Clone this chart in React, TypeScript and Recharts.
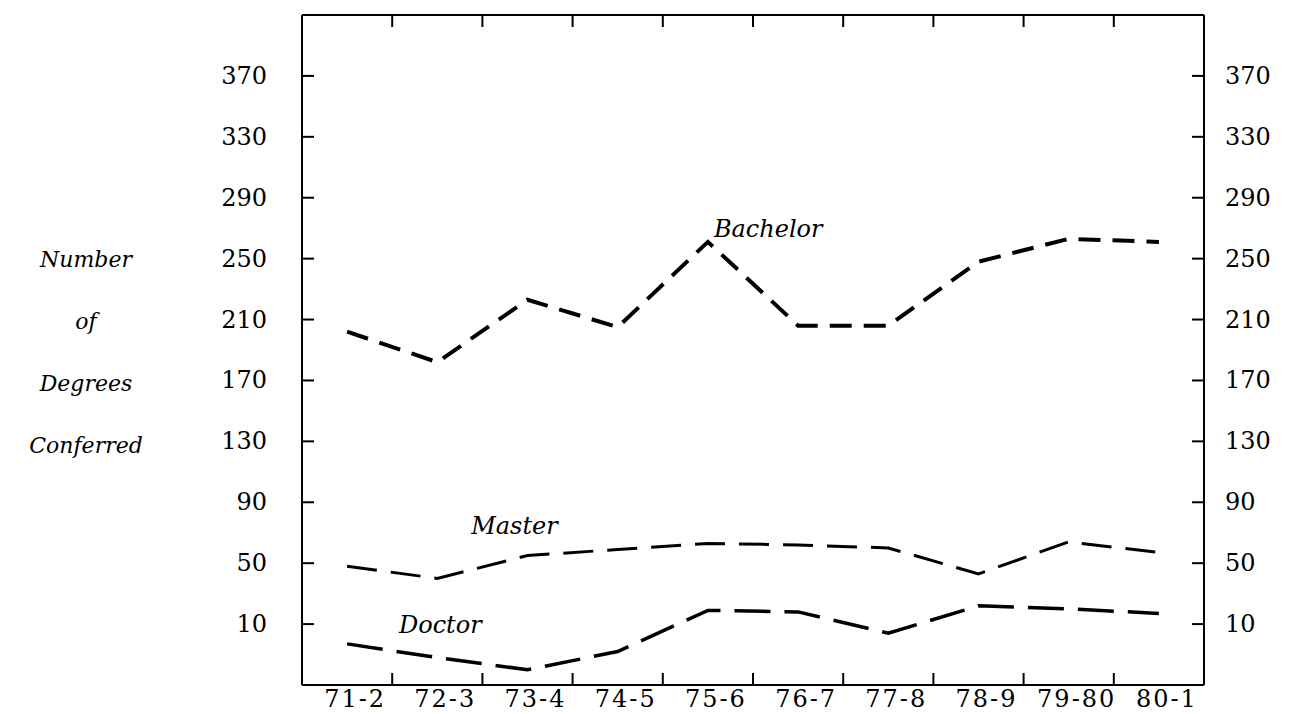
import React from 'react';
import { LineChart, Line, XAxis, YAxis, LabelList } from 'recharts';

const years = ['71-2', '72-3', '73-4', '74-5', '75-6', '76-7', '77-8', '78-9', '79-80', '80-1'];
const bachelor = [202, 182, 223, 205, 261, 206, 206, 248, 263, 261];
const master = [48, 40, 55, 59, 63, 62, 60, 43, 64, 57];
const doctor = [-3, -12, -20, -8, 19, 18, 4, 22, 20, 17];
const yTicks = [10, 50, 90, 130, 170, 210, 250, 290, 330, 370];
const titleLines = ['Number', 'of', 'Degrees', 'Conferred'];

const data = years.map((year, i) => ({
  year,
  bachelor: bachelor[i],
  master: master[i],
  doctor: doctor[i],
}));

const W = 1300;
const H = 714;
const PLOT_L = 302;
const PLOT_R = 1204;
const PLOT_T = 15;
const PLOT_B = 685;
const HALF = (PLOT_R - PLOT_L) / years.length / 2;
const FONT = '"DejaVu Serif", serif';
const TICK = 12;

const BottomTick = (props: any) => {
  const { x, index, payload } = props;
  return (
    <g>
      <text x={x + 8} y={707} textAnchor="middle" fontFamily={FONT} fontSize={24} letterSpacing={2} fill="#000">
        {payload.value}
      </text>
      {index < years.length - 1 && (
        <line x1={x + HALF} x2={x + HALF} y1={PLOT_B} y2={PLOT_B - TICK} stroke="#000" strokeWidth={2} />
      )}
    </g>
  );
};

const TopTick = (props: any) => {
  const { x, index } = props;
  if (index >= years.length - 1) return <g />;
  return <line x1={x + HALF} x2={x + HALF} y1={PLOT_T} y2={PLOT_T + TICK} stroke="#000" strokeWidth={2} />;
};

const LeftTick = (props: any) => {
  const { y, payload } = props;
  return (
    <g>
      <text x={267} y={y + 8} textAnchor="end" fontFamily={FONT} fontSize={24} fill="#000">
        {payload.value}
      </text>
      <line x1={PLOT_L} x2={PLOT_L + TICK} y1={y} y2={y} stroke="#000" strokeWidth={2} />
    </g>
  );
};

const RightTick = (props: any) => {
  const { y, payload } = props;
  return (
    <g>
      <text x={1225} y={y + 8} textAnchor="start" fontFamily={FONT} fontSize={24} fill="#000">
        {payload.value}
      </text>
      <line x1={PLOT_R} x2={PLOT_R - TICK} y1={y} y2={y} stroke="#000" strokeWidth={2} />
    </g>
  );
};

const makeLabel = (name: string, at: number, dx: number, dy: number, anchor: string) => (props: any) => {
  const { x, y, index } = props;
  if (index !== at) return null;
  return (
    <text x={x + dx} y={y + dy} textAnchor={anchor} fontFamily={FONT} fontStyle="italic" fontSize={24} fill="#000">
      {name}
    </text>
  );
};

export default function App() {
  return (
    <div style={{ position: 'absolute', left: 0, top: 0, width: W, height: H, background: '#fff' }}>
      <LineChart
        width={W}
        height={H}
        data={data}
        margin={{ top: 0, right: W - PLOT_R - 40, bottom: 0, left: PLOT_L - 40 }}
      >
        <XAxis
          xAxisId="b"
          dataKey="year"
          orientation="bottom"
          height={H - PLOT_B}
          padding={{ left: HALF, right: HALF }}
          axisLine={{ stroke: '#000', strokeWidth: 2 }}
          tickLine={false}
          tick={<BottomTick />}
          interval={0}
        />
        <XAxis
          xAxisId="t"
          dataKey="year"
          orientation="top"
          height={PLOT_T}
          padding={{ left: HALF, right: HALF }}
          axisLine={{ stroke: '#000', strokeWidth: 2 }}
          tickLine={false}
          tick={<TopTick />}
          interval={0}
        />
        <YAxis
          yAxisId="l"
          orientation="left"
          width={40}
          type="number"
          domain={[-30, 410]}
          ticks={yTicks}
          interval={0}
          allowDataOverflow
          axisLine={{ stroke: '#000', strokeWidth: 2 }}
          tickLine={false}
          tick={<LeftTick />}
        />
        <YAxis
          yAxisId="r"
          orientation="right"
          width={40}
          type="number"
          domain={[-30, 410]}
          ticks={yTicks}
          interval={0}
          allowDataOverflow
          axisLine={{ stroke: '#000', strokeWidth: 2 }}
          tickLine={false}
          tick={<RightTick />}
        />
        <Line
          xAxisId="b"
          yAxisId="l"
          type="linear"
          dataKey="bachelor"
          stroke="#000"
          strokeWidth={4}
          strokeDasharray="22 12"
          dot={false}
          isAnimationActive={false}
        >
          <LabelList dataKey="bachelor" content={makeLabel('Bachelor', 4, 6, -5, 'start')} />
        </Line>
        <Line
          xAxisId="b"
          yAxisId="l"
          type="linear"
          dataKey="master"
          stroke="#000"
          strokeWidth={3}
          strokeDasharray="30 14"
          dot={false}
          isAnimationActive={false}
        >
          <LabelList dataKey="master" content={makeLabel('Master', 2, -13, -22, 'middle')} />
        </Line>
        <Line
          xAxisId="b"
          yAxisId="l"
          type="linear"
          dataKey="doctor"
          stroke="#000"
          strokeWidth={3.5}
          strokeDasharray="36 14"
          dot={false}
          isAnimationActive={false}
        >
          <LabelList dataKey="doctor" content={makeLabel('Doctor', 1, 3, -25, 'middle')} />
        </Line>
      </LineChart>
      {titleLines.map((t, i) => (
        <div
          key={t}
          style={{
            position: 'absolute',
            left: 0,
            width: 172,
            top: 260 + i * 62 - 15,
            lineHeight: '30px',
            textAlign: 'center',
            fontFamily: FONT,
            fontStyle: 'italic',
            fontSize: 22,
            color: '#000',
          }}
        >
          {t}
        </div>
      ))}
    </div>
  );
}
